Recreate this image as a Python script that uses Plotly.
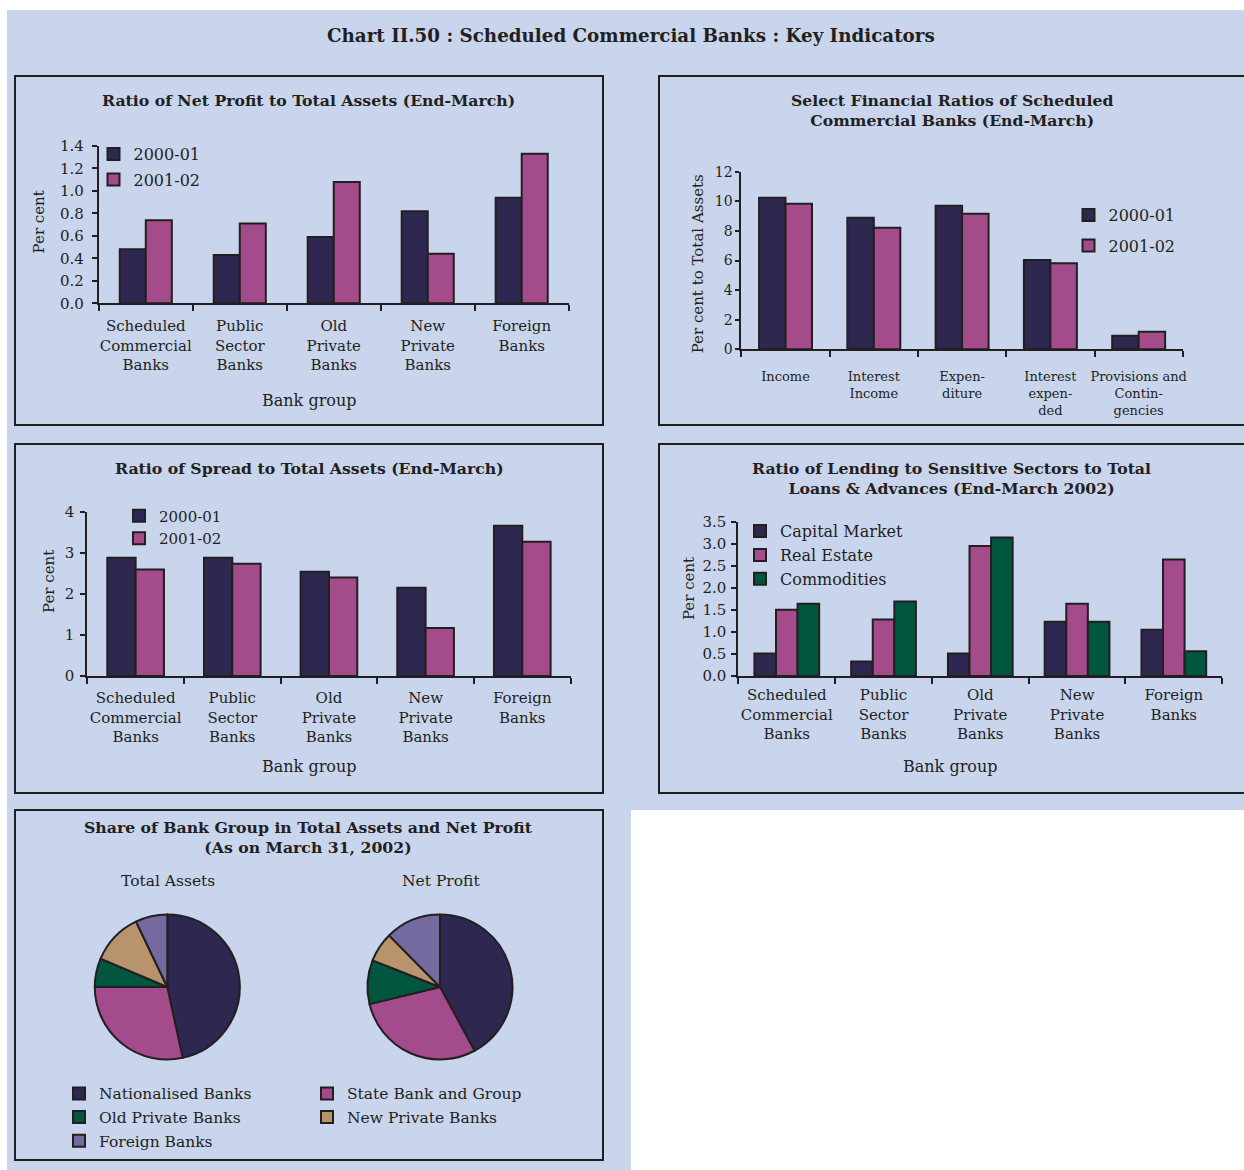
import plotly.graph_objects as go

# ---------------------------------------------------------------- data
bank_groups = ["Scheduled<br>Commercial<br>Banks", "Public<br>Sector<br>Banks",
               "Old<br>Private<br>Banks", "New<br>Private<br>Banks", "Foreign<br>Banks"]
years = ["2000-01", "2001-02"]

# Ratio of net profit to total assets (per cent)
net_profit_2000_01 = [0.48, 0.43, 0.59, 0.82, 0.94]
net_profit_2001_02 = [0.74, 0.71, 1.08, 0.44, 1.33]

# Select financial ratios of SCBs (per cent to total assets)
ratio_items = ["Income", "Interest<br>Income", "Expen-<br>diture",
               "Interest<br>expen-<br>ded", "Provisions and<br>Contin-<br>gencies"]
ratios_2000_01 = [10.24, 8.89, 9.70, 6.03, 0.92]
ratios_2001_02 = [9.84, 8.22, 9.16, 5.81, 1.19]

# Ratio of spread to total assets (per cent)
spread_2000_01 = [2.88, 2.88, 2.54, 2.15, 3.66]
spread_2001_02 = [2.59, 2.73, 2.40, 1.17, 3.27]

# Lending to sensitive sectors / total loans & advances, end-March 2002 (per cent)
sectors = ["Capital Market", "Real Estate", "Commodities"]
capital_market = [0.51, 0.33, 0.51, 1.23, 1.05]
real_estate = [1.50, 1.28, 2.95, 1.64, 2.64]
commodities = [1.64, 1.69, 3.14, 1.23, 0.56]

# Share of bank groups, March 31, 2002 (per cent)
share_labels = ["Nationalised Banks", "State Bank and Group", "Old Private Banks",
                "New Private Banks", "Foreign Banks"]
share_total_assets = [46.6, 28.4, 6.4, 11.5, 7.1]
share_net_profit = [42.1, 29.1, 9.8, 6.6, 12.4]

# ---------------------------------------------------------------- style
W, H = 1244, 1170
FONT = "DejaVu Serif"
INK = "#231F20"
BG = "#C9D5EC"
NAVY = "#2E2850"
MAGENTA = "#A34B8B"
GREEN = "#00563F"
TAN = "#B8946C"
LAVENDER = "#756A9F"
share_colors = [NAVY, MAGENTA, GREEN, TAN, LAVENDER]
TITLE_SIZE = 15.7


def fx(px):
    return px / W


def fy(py):
    return 1 - py / H


fig = go.Figure()


def add_bars(axis_id, cats, series, names, colors, width, legend):
    n = len(series)
    xa = "x" if axis_id == 1 else f"x{axis_id}"
    ya = "y" if axis_id == 1 else f"y{axis_id}"
    for i, (vals, name, col) in enumerate(zip(series, names, colors)):
        fig.add_trace(go.Bar(
            x=cats, y=vals, name=name, width=width,
            offset=-n * width / 2 + i * width,
            marker=dict(color=col, line=dict(color=INK, width=2)),
            xaxis=xa, yaxis=ya, legend=legend, legendgroup=f"{legend}-{i}",
        ))


add_bars(1, bank_groups, [net_profit_2000_01, net_profit_2001_02], years,
         [NAVY, MAGENTA], 0.277, "legend")
add_bars(2, ratio_items, [ratios_2000_01, ratios_2001_02], years,
         [NAVY, MAGENTA], 0.30, "legend2")
add_bars(3, bank_groups, [spread_2000_01, spread_2001_02], years,
         [NAVY, MAGENTA], 0.293, "legend3")
add_bars(4, bank_groups, [capital_market, real_estate, commodities], sectors,
         [NAVY, MAGENTA, GREEN], 0.223, "legend4")

# pies
for vals, cx in [(share_total_assets, 167.3), (share_net_profit, 440.0)]:
    r = 72.5
    fig.add_trace(go.Pie(
        labels=share_labels, values=vals, sort=False, direction="clockwise",
        rotation=0, textinfo="none", showlegend=False,
        marker=dict(colors=share_colors, line=dict(color=INK, width=2)),
        domain=dict(x=[fx(cx - r), fx(cx + r)], y=[fy(987 + r), fy(987 - r)]),
    ))

# legend entries for the pie colours, split into two columns
for i, (lab, col) in enumerate(zip(share_labels, share_colors)):
    fig.add_trace(go.Scatter(
        x=[None], y=[None], mode="markers", name=lab,
        marker=dict(symbol="square", size=12, color=col, line=dict(color=INK, width=2)),
        legend="legend5" if i % 2 == 0 else "legend6", legendgroup=f"share-{i}",
        xaxis="x", yaxis="y",
    ))

layout = dict(
    template="none",
    width=W, height=H, margin=dict(l=0, r=0, t=0, b=0, pad=0, autoexpand=False),
    paper_bgcolor="white", plot_bgcolor="rgba(0,0,0,0)",
    barmode="overlay", font=dict(family=FONT, color=INK),
    hovermode=False,
)


def set_axes(idx, x0, x1, y0, y1, yrange, dtick, fmt, xfont, yfont, xstand, ystand, ylen=5):
    xk = "xaxis" if idx == 1 else f"xaxis{idx}"
    yk = "yaxis" if idx == 1 else f"yaxis{idx}"
    xa = "x" if idx == 1 else f"x{idx}"
    ya = "y" if idx == 1 else f"y{idx}"
    layout[xk] = dict(
        domain=[fx(x0), fx(x1)], anchor=ya, type="category", range=[-0.5, 4.5],
        automargin=False, tickangle=0,
        showline=True, linecolor=INK, linewidth=2, ticks="outside", tickson="boundaries",
        ticklen=6, tickwidth=2, tickcolor=INK, showgrid=False, zeroline=False,
        tickfont=dict(family=FONT, size=xfont, color=INK), ticklabelstandoff=xstand,
    )
    layout[yk] = dict(
        domain=[fy(y1), fy(y0)], anchor=xa, range=yrange, tick0=0, dtick=dtick,
        automargin=False,
        tickformat=fmt, showline=True, linecolor=INK, linewidth=2, ticks="outside",
        ticklen=ylen, tickwidth=1.5, tickcolor=INK, showgrid=False, zeroline=False,
        tickfont=dict(family=FONT, size=yfont, color=INK), ticklabelstandoff=ystand,
    )


set_axes(1, 98.8, 568.7, 146.0, 303.3, [0, 1.4], 0.2, ".1f", 15, 15, 8, 5)
set_axes(2, 741.4, 1182.8, 171.7, 349.3, [0, 12], 2, "d", 13, 14, 14, 0, 4)
set_axes(3, 87.3, 570.6, 511.7, 676.0, [0, 4], 1, "d", 15, 15, 7, 3)
set_axes(4, 738.4, 1222.2, 521.7, 676.0, [0, 3.5], 0.5, ".1f", 15, 15, 4, 2)


def legend_box(px, py, size, gap):
    return dict(x=fx(px), y=fy(py), xanchor="left", yanchor="top",
                bgcolor="rgba(0,0,0,0)", borderwidth=0, traceorder="grouped",
                tracegroupgap=gap, font=dict(family=FONT, size=size, color=INK),
                itemclick=False, itemdoubleclick=False)


layout["legend"] = legend_box(93.5, 137.2, 16, 1.5)
layout["legend2"] = legend_box(1068.5, 198.2, 16, 6.5)
layout["legend3"] = legend_box(119, 499.5, 15, 0)
layout["legend4"] = legend_box(740, 514.2, 16, 0)
layout["legend5"] = legend_box(59, 1076.8, 15.5, 0.5)
layout["legend6"] = legend_box(307, 1076.8, 15.5, 0.5)

# background and panel frames
shapes = [
    dict(type="rect", xref="paper", yref="paper", x0=fx(7), x1=fx(1250), y0=fy(810), y1=fy(10),
         fillcolor=BG, line=dict(width=0), layer="below"),
    dict(type="rect", xref="paper", yref="paper", x0=fx(7), x1=fx(631), y0=fy(1175), y1=fy(809),
         fillcolor=BG, line=dict(width=0), layer="below"),
]
for x0, x1, y0, y1 in [(15, 603, 76, 425), (659, 1260, 76, 425), (15, 603, 444, 793),
                       (659, 1260, 444, 793), (15, 603, 810, 1160)]:
    shapes.append(dict(type="rect", xref="paper", yref="paper", x0=fx(x0), x1=fx(x1),
                       y0=fy(y1), y1=fy(y0), line=dict(color=INK, width=2),
                       fillcolor="rgba(0,0,0,0)", layer="below"))
layout["shapes"] = shapes


def note(text, px, py, size, bold=False, angle=0):
    return dict(text=f"<b>{text}</b>" if bold else text, x=fx(px), y=fy(py),
                xref="paper", yref="paper", xanchor="center", yanchor="middle",
                showarrow=False, textangle=angle,
                font=dict(family=FONT, size=size, color=INK))


layout["annotations"] = [
    note("Chart II.50 : Scheduled Commercial Banks : Key Indicators", 631, 35, 18.3, True),
    note("Ratio of Net Profit to Total Assets (End-March)", 308.5, 100.7, TITLE_SIZE, True),
    note("Select Financial Ratios of Scheduled<br>Commercial Banks (End-March)", 951.8, 110.7,
         TITLE_SIZE, True),
    note("Ratio of Spread to Total Assets (End-March)", 309, 468.3, TITLE_SIZE, True),
    note("Ratio of Lending to Sensitive Sectors to Total<br>Loans & Advances (End-March 2002)",
         951.8, 478.3, TITLE_SIZE, True),
    note("Share of Bank Group in Total Assets and Net Profit<br>(As on March 31, 2002)",
         308.5, 837, TITLE_SIZE, True),
    note("Per cent", 38.7, 221.7, 15, angle=-90),
    note("Bank group", 308.5, 400, 16),
    note("Per cent to Total Assets", 698, 263.3, 15, angle=-90),
    note("Per cent", 48.3, 581.7, 15, angle=-90),
    note("Bank group", 308.5, 766.7, 16),
    note("Per cent", 688.8, 588.3, 15, angle=-90),
    note("Bank group", 949.9, 766.7, 16),
    note("Total Assets", 167.7, 881, 15.5),
    note("Net Profit", 440.5, 881, 15.5),
]

fig.update_layout(**layout)
fig.write_html("out.html")
